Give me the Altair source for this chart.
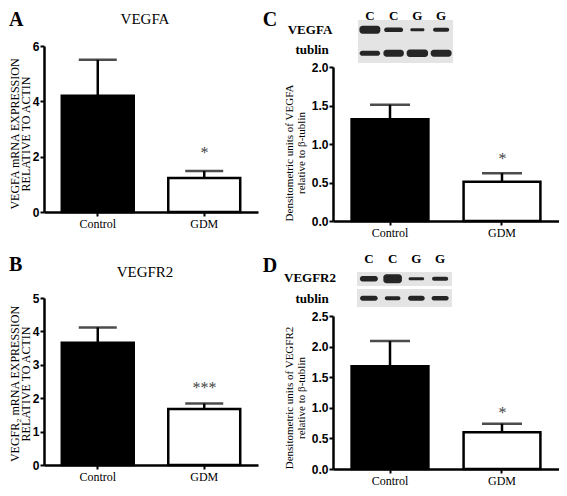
import altair as alt
import pandas as pd

# ---------------- data ----------------
groups = ["Control", "GDM"]
bar_fill = ["black", "white"]

vegfa_mrna_mean = [4.20, 1.23]
vegfa_mrna_upper = [5.50, 1.48]
vegfa_mrna_star = ["", "*"]

vegfr2_mrna_mean = [3.66, 1.68]
vegfr2_mrna_upper = [4.12, 1.84]
vegfr2_mrna_star = ["", "***"]

vegfa_prot_mean = [1.32, 0.51]
vegfa_prot_upper = [1.51, 0.62]
vegfa_prot_star = ["", "*"]

vegfr2_prot_mean = [1.68, 0.60]
vegfr2_prot_upper = [2.09, 0.74]
vegfr2_prot_star = ["", "*"]

lane_labels = ["C", "C", "G", "G"]
lanes = [1, 2, 3, 4]
# western blot band sizes (width in lanes, thickness in rows)
blotC_vegfa_w = [0.88, 0.80, 0.60, 0.68]
blotC_vegfa_h = [0.34, 0.20, 0.13, 0.17]
blotC_tub_w = [0.86, 0.86, 0.90, 0.88]
blotC_tub_h = [0.22, 0.30, 0.32, 0.30]
blotD_vegfr2_w = [0.76, 0.78, 0.66, 0.68]
blotD_vegfr2_h = [0.28, 0.45, 0.16, 0.20]
blotD_tub_w = [0.74, 0.66, 0.70, 0.72]
blotD_tub_h = [0.26, 0.20, 0.26, 0.22]

# ---------------- layout ----------------
W, H = 551, 480
SERIF = "Liberation Serif"
SANS = "Liberation Sans"


def panel(means, uppers, stars, ydom, yvals, fmt, yrange, xrange, axis_x, zero_y, star_dy, pi, po, cap):
    df = pd.DataFrame({"group": groups, "mean": means, "upper": uppers,
                       "fill": bar_fill, "star": stars})

    def xs():
        return alt.Scale(domain=groups, range=xrange, paddingInner=pi, paddingOuter=po)

    def ys():
        return alt.Scale(domain=ydom, range=yrange, nice=False, zero=True)

    xax = alt.Axis(orient="bottom", offset=zero_y - H, title=None, labelAngle=0,
                   labelFont=SERIF, labelFontSize=12, labelColor="black", labelPadding=2,
                   domainColor="black", domainWidth=2.5, tickColor="black", tickWidth=2,
                   tickSize=4, grid=False)
    yax = alt.Axis(orient="left", offset=-axis_x, title=None, values=yvals, format=fmt,
                   labelFont=SANS, labelFontSize=12, labelFontWeight="bold", labelColor="black",
                   labelPadding=1, domainColor="black", domainWidth=2.5, tickColor="black",
                   tickWidth=2, tickSize=4, grid=False)
    base = alt.Chart(df)
    bars = base.mark_bar(stroke="black", strokeWidth=2.5).encode(
        x=alt.X("group:N", scale=xs(), axis=xax, sort=groups),
        y=alt.Y("mean:Q", scale=ys(), axis=yax),
        fill=alt.Fill("fill:N", scale=None),
    )
    stem = base.mark_rule(color="black", strokeWidth=2.5).encode(
        x=alt.X("group:N", scale=xs(), axis=None, sort=groups),
        y=alt.Y("mean:Q", scale=ys(), axis=None), y2="upper:Q")
    capm = base.mark_tick(color="black", thickness=2.5, size=cap).encode(
        x=alt.X("group:N", scale=xs(), axis=None, sort=groups),
        y=alt.Y("upper:Q", scale=ys(), axis=None))
    star = base.mark_text(font=SERIF, fontSize=16, color="#444", baseline="alphabetic",
                          dy=star_dy).encode(
        x=alt.X("group:N", scale=xs(), axis=None, sort=groups),
        y=alt.Y("upper:Q", scale=ys(), axis=None), text="star:N")
    return [bars, stem, capm, star]


def txt(s, x, y, size, font=SERIF, weight="normal", angle=0, align="center"):
    return alt.Chart(pd.DataFrame({"t": [s]})).mark_text(
        text=s, font=font, fontSize=size, fontWeight=weight, angle=angle,
        align=align, baseline="middle", color="black",
    ).encode(x=alt.value(x), y=alt.value(y))


def box(x1, x2, y1, y2, color="#e4e4e4"):
    return alt.Chart(pd.DataFrame({"t": [0]})).mark_rect(color=color).encode(
        x=alt.value(x1), x2=alt.value(x2), y=alt.value(y1), y2=alt.value(y2))


def blot(w_top, h_top, w_bot, h_bot, xrange, yrange):
    df = pd.DataFrame({
        "lane": lanes + lanes,
        "row": [0] * 4 + [1] * 4,
        "w": w_top + w_bot,
        "h": h_top + h_bot,
    })
    xs = alt.Scale(domain=[0.5, 4.5], range=xrange)
    ys = alt.Scale(domain=[-0.5, 1.5], range=yrange)
    return alt.Chart(df).transform_calculate(
        x1="datum.lane - datum.w / 2", x2="datum.lane + datum.w / 2",
        y1="datum.row - datum.h / 2", y2="datum.row + datum.h / 2",
    ).mark_rect(color="#151515", cornerRadius=3, opacity=0.92).encode(
        x=alt.X("x1:Q", scale=xs, axis=None), x2="x2:Q",
        y=alt.Y("y1:Q", scale=ys, axis=None), y2="y2:Q",
    )


def lane_letters(xrange, y):
    df = pd.DataFrame({"lane": lanes, "lab": lane_labels})
    xs = alt.Scale(domain=[0.5, 4.5], range=xrange)
    return alt.Chart(df).mark_text(font=SERIF, fontSize=13, fontWeight="bold",
                                   color="black").encode(
        x=alt.X("lane:Q", scale=xs, axis=None), y=alt.value(y), text="lab:N")


pA = panel(vegfa_mrna_mean, vegfa_mrna_upper, vegfa_mrna_star, [0, 6], [0, 2, 4, 6], "d",
           [204, 38], [36, 250], 36, 204, -13, 0.324, 0.167, 38)
pB = panel(vegfr2_mrna_mean, vegfr2_mrna_upper, vegfr2_mrna_star, [0, 5], [0, 1, 2, 3, 4, 5], "d",
           [457, 290], [36, 250], 36, 457, -11, 0.324, 0.167, 38)
pC = panel(vegfa_prot_mean, vegfa_prot_upper, vegfa_prot_star, [0, 2], [0, 0.5, 1, 1.5, 2], ".1f",
           [213, 59], [325, 551], 325, 213, -9, 0.314, 0.166, 40)
pD = panel(vegfr2_prot_mean, vegfr2_prot_upper, vegfr2_prot_star, [0, 2.5],
           [0, 0.5, 1, 1.5, 2, 2.5], ".1f",
           [461, 308], [325, 551], 325, 461, -6, 0.314, 0.166, 40)

annotations = [
    txt("A", 1, 12, 20, weight="bold", align="left"),
    txt("B", 1, 257, 20, weight="bold", align="left"),
    txt("C", 262, 12, 20, weight="bold"),
    txt("D", 262, 258, 20, weight="bold"),
    txt("VEGFA", 137, 11, 15),
    txt("VEGFR2", 137, 264, 15),
    txt("VEGFA mRNA EXPRESSION", 6.5, 126, 12, angle=270),
    txt("RELATIVE TO ACTIN", 18, 126, 12, angle=270),
    txt("VEGFR\u2082 mRNA EXPRESSION", 6.5, 376, 12, angle=270),
    txt("RELATIVE TO ACTIN", 18, 376, 12, angle=270),
    txt("Densitometric units of VEGFA", 282, 145, 11, angle=270),
    txt("relative to \u03b2-tublin", 294, 145, 11, angle=270),
    txt("Densitometric units of VEGFR2", 282, 390, 11, angle=270),
    txt("relative to \u03b2-tublin", 294, 390, 11, angle=270),
    # blot C
    box(350, 445, 12, 55),
    txt("VEGFA", 302, 22, 13, weight="bold"),
    txt("tublin", 304, 42, 13, weight="bold"),
    # blot D
    box(349, 444, 264, 278),
    box(349, 444, 281, 299),
    txt("VEGFR2", 302, 270, 13, weight="bold"),
    txt("tublin", 304, 291, 13, weight="bold"),
]

blots = [
    blot(blotC_vegfa_w, blotC_vegfa_h, blotC_tub_w, blotC_tub_h, [350, 445], [10, 57]),
    lane_letters([350, 445], 8),
    blot(blotD_vegfr2_w, blotD_vegfr2_h, blotD_tub_w, blotD_tub_h, [349, 444], [261, 300]),
    lane_letters([349, 444], 251),
]

chart = alt.layer(
    *annotations, *blots, *pA, *pB, *pC, *pD
).resolve_scale(
    x="independent", y="independent"
).resolve_axis(
    x="independent", y="independent"
).properties(
    width=W, height=H, padding=0, autosize="none"
).configure_view(stroke=None)

chart.save("out.html", embed_options={"renderer": "svg", "actions": False})
